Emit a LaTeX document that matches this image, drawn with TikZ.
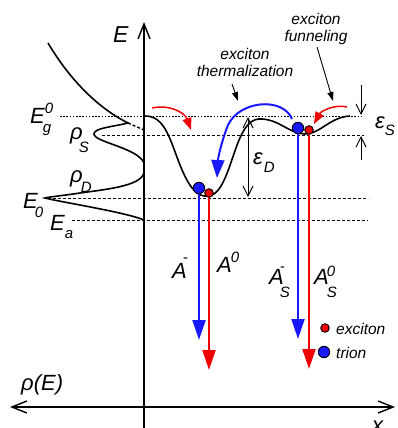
\documentclass[tikz,border=0pt]{standalone}
\usepackage{fontspec}
\setmainfont{Liberation Sans}
\usetikzlibrary{arrows.meta}
\definecolor{myblue}{RGB}{25,25,255}
\definecolor{myred}{RGB}{240,0,0}
\newcommand{\bigf}{\fontsize{22}{24}\selectfont\itshape}
\newcommand{\axf}{\fontsize{23}{25}\selectfont\itshape}
\newcommand{\smf}{\fontsize{15}{15}\selectfont\itshape}
\newcommand{\txf}{\fontsize{15.5}{17}\selectfont\itshape}
\newcommand{\up}[2]{\raisebox{#1}{\smf #2}}
\newcommand{\ovl}[2]{\makebox[0pt][l]{\raisebox{#1}{\smf #2}}}
\begin{document}
\begin{tikzpicture}[x=1pt,y=-1pt,
  axisline/.style={line width=1.4pt},
  axarrow/.style={-{Straight Barb[length=15pt,width=12pt]}},
  axboth/.style={{Straight Barb[length=15pt,width=12pt]}-{Straight Barb[length=15pt,width=12pt]}},
  gapboth/.style={{Straight Barb[length=10pt,width=10pt]}-{Straight Barb[length=10pt,width=10pt]}},
  gapone/.style={-{Straight Barb[length=10pt,width=10pt]}},
  dotguide/.style={line width=0.8pt,dash pattern=on 1.6pt off 1.6pt},
  dashguide/.style={line width=0.8pt,dash pattern=on 3pt off 2pt},
  curve/.style={line width=1.6pt},
  emis/.style={line width=2pt,-{Triangle[length=20pt,width=13pt]}},
  redcurve/.style={line width=1.5pt,myred,-{Triangle[length=12pt,width=9pt]}},
  bluecurve/.style={line width=2pt,myblue,-{Triangle[length=18pt,width=13pt]}},
  pointer/.style={line width=0.9pt,-{Triangle[length=9pt,width=6pt]}},
  gaparrow/.style={line width=1pt},
  lbl/.style={inner sep=0pt,anchor=base west,font=\bigf},
  txt/.style={inner sep=0pt,align=center,font=\txf},
  edot/.style={circle,draw=black,line width=0.9pt,fill=myred,minimum size=8.6pt,inner sep=0pt},
  tdot/.style={circle,draw=black,line width=0.9pt,fill=myblue,minimum size=11.5pt,inner sep=0pt}
]
\useasboundingbox (0,0) rectangle (398,428);

% axes
\coordinate (vbot) at (144,428);
\coordinate (vtop) at (144,22);
\coordinate (hl) at (10,407);
\coordinate (hr) at (395,407);
\draw[axisline,axarrow] (vbot) -- (vtop);
\draw[axisline,axboth] (hl) -- (hr);

% guide lines
\coordinate (g1a) at (60,116);  \coordinate (g1b) at (364,116);
\coordinate (g2a) at (102,135); \coordinate (g2b) at (364,135);
\coordinate (g3a) at (48,198);  \coordinate (g3b) at (368,198);
\coordinate (g4a) at (72,220);  \coordinate (g4b) at (368,220);
\draw[dotguide] (g1a) -- (g1b);
\draw[dashguide] (g2a) -- (g2b);
\draw[dashguide] (g3a) -- (g3b);
\draw[dashguide] (g4a) -- (g4b);

% density of states
\draw[curve] (48,43) .. controls (70,80) and (98,108) .. (128,123)
  .. controls (112,127) and (94,128) .. (94,134)
  .. controls (94,142) and (138,148) .. (144,163);
\draw[line width=1.4pt,dash pattern=on 3pt off 2pt] (128,123) -- (144,130);
\draw[curve] (144,170) .. controls (146,185) and (110,189) .. (80,193)
  .. controls (60,196) and (48,197) .. (45,198)
  .. controls (60,202) and (125,212) .. (144,220);

% potential profile
\draw[curve] (144,116) .. controls (165,115) and (170,140) .. (180,165)
  .. controls (190,190) and (198,197) .. (208,196)
  .. controls (222,195) and (228,170) .. (236,148)
  .. controls (244,125) and (252,118) .. (262,119)
  .. controls (280,120) and (290,134) .. (305,134)
  .. controls (320,134) and (330,117) .. (350,116);

% emission arrows
\coordinate (tA) at (199,188);  \coordinate (eA) at (209,193);
\coordinate (tS) at (298,128);  \coordinate (eS) at (309,130);
\coordinate (tAend) at (199,340);
\coordinate (eAend) at (209,370);
\coordinate (tSend) at (298,339);
\coordinate (eSend) at (309,369);
\draw[emis,myblue] (tA) -- (tAend);
\draw[emis,myred] (eA) -- (eAend);
\draw[emis,myblue] (tS) -- (tSend);
\draw[emis,myred] (eS) -- (eSend);

% particles
\node[tdot] (tAdot) at (tA) {};
\node[edot] (eAdot) at (eA) {};
\node[tdot] (tSdot) at (tS) {};
\node[edot] (eSdot) at (eS) {};

% relaxation arrows
\coordinate (r1a) at (152,108); \coordinate (r1b) at (191,130);
\coordinate (r2a) at (347,107); \coordinate (r2b) at (314,124);
\draw[redcurve] (r1a) .. controls (170,104) and (185,113) .. (r1b);
\draw[redcurve] (r2a) .. controls (335,104) and (321,111) .. (r2b);
\coordinate (b1a) at (292,119); \coordinate (b1m) at (228,125); \coordinate (b1b) at (217,178);
\draw[bluecurve] (b1a) .. controls (283,97) and (240,100) .. (b1m)
  .. controls (222,140) and (218,158) .. (b1b);

% annotations
\node[txt] (therm) at (245,62.5) {exciton\\thermalization};
\node[txt] (funn) at (316,28.5) {exciton\\funneling};
\coordinate (p1a) at (232,84); \coordinate (p1b) at (238,101);
\coordinate (p2a) at (317,47); \coordinate (p2b) at (333,101);
\draw[pointer] (p1a) -- (p1b);
\draw[pointer] (p2a) -- (p2b);

% energy gaps
\coordinate (dTop) at (248,117); \coordinate (dBot) at (248,197);
\draw[gaparrow,gapboth] (dTop) -- (dBot);
\coordinate (s1a) at (361,85);  \coordinate (s1b) at (361,115);
\coordinate (s2a) at (361,160); \coordinate (s2b) at (361,136);
\draw[gaparrow,gapone] (s1a) -- (s1b);
\draw[gaparrow,gapone] (s2a) -- (s2b);

% labels
\node[lbl,font=\axf] (Eax) at (113,42) {E};
\node[lbl] (Eg) at (30,123) {E\ovl{10pt}{0}\kern-2pt\up{-9pt}{g}};
\node[lbl] (rS) at (70,139) {ρ\kern-4pt\up{-13pt}{S}};
\node[lbl] (rD) at (70,182) {ρ\kern-2pt\up{-10pt}{D}};
\node[lbl] (E0) at (23,208) {E\kern-3pt\up{-9pt}{0}};
\node[lbl] (Ea) at (50,230) {E\kern0pt\up{-8pt}{a}};
\node[lbl] (Am) at (172,278) {A\kern-4pt\up{16pt}{-}};
\node[lbl] (A0) at (217,272) {A\kern-1pt\up{10pt}{0}};
\node[lbl] (ASm) at (269,284) {A\kern-4pt\ovl{13pt}{-}\up{-13pt}{S}};
\node[lbl] (AS0) at (314,284) {A\kern-2pt\ovl{8pt}{0}\up{-13pt}{S}};
\node[lbl] (eD) at (253,164) {ε\kern1pt\up{-8pt}{D}};
\node[lbl] (eSl) at (375,128) {ε\kern0pt\up{-7pt}{S}};
\node[lbl] (rhoE) at (21,390) {ρ(E)};
\node[lbl] (xl) at (372,432) {x};

% legend
\node[edot] (legE) at (325,328) {};
\node[tdot] (legT) at (324,352) {};
\node[inner sep=0pt,anchor=base west,font=\txf] (legEt) at (336,334) {exciton};
\node[inner sep=0pt,anchor=base west,font=\txf] (legTt) at (336,358) {trion};
\end{tikzpicture}
\end{document}
